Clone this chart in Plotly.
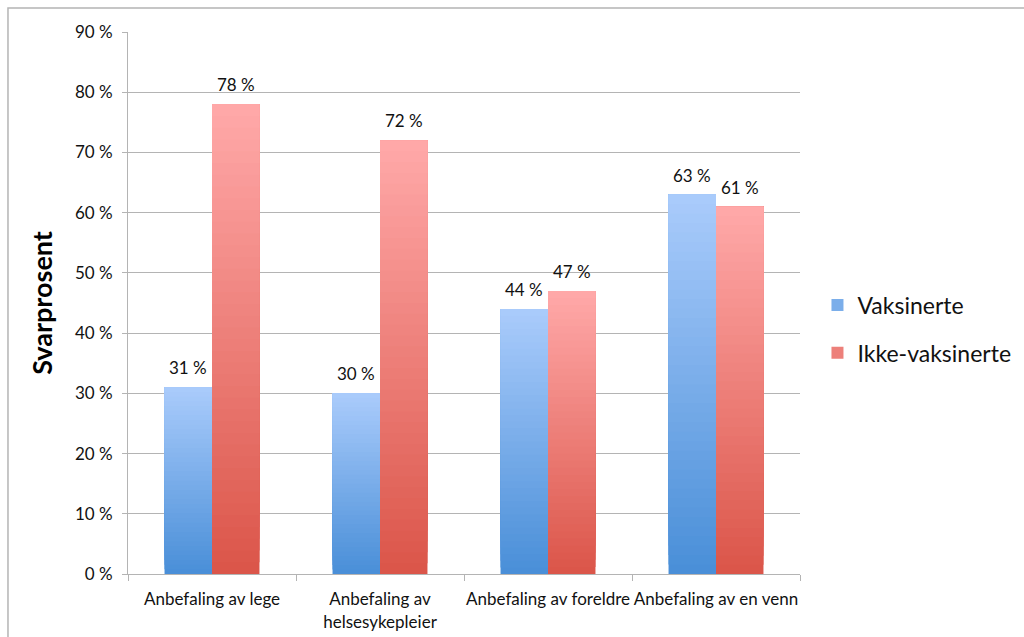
import plotly.graph_objects as go

categories = ["Anbefaling av lege", "Anbefaling av<br>helsesykepleier",
              "Anbefaling av foreldre", "Anbefaling av en venn"]
vaksinerte = [31, 30, 44, 63]
ikke_vaksinerte = [78, 72, 47, 61]
series_names = ["Vaksinerte", "Ikke-vaksinerte"]
y_ticks = [0, 10, 20, 30, 40, 50, 60, 70, 80, 90]
y_ticktext = ["%d %%" % v for v in y_ticks]

FONT = "Lato, 'Liberation Sans', Arial, sans-serif"
TXT = "#111111"
N = 40  # gradient slices per bar
BARGAP = 0.435

grad = {
    "Vaksinerte": ((74, 143, 216), (169, 203, 251)),
    "Ikke-vaksinerte": ((219, 86, 74), (255, 168, 168)),
}


def mix(c0, c1, t):
    return "rgb(%d,%d,%d)" % tuple(round(a + (b - a) * t) for a, b in zip(c0, c1))


fig = go.Figure()
annotations = []
for s, (name, vals, grp) in enumerate([("Vaksinerte", vaksinerte, "v"),
                                       ("Ikke-vaksinerte", ikke_vaksinerte, "r")]):
    c0, c1 = grad[name]
    for i in range(N):
        t = i / (N - 1)
        # each slice runs from its base up to the bar top; later slices overlay
        fig.add_trace(go.Bar(
            x=categories,
            y=[v * (N - i) / N for v in vals],
            base=[v * i / N for v in vals],
            offsetgroup=grp,
            marker=dict(color=mix(c0, c1, t), line=dict(width=0)),
            name=name,
            legendgroup=grp,
            showlegend=(i == N // 2),
            hoverinfo="skip",
        ))
    sign = -1 if s == 0 else 1
    for k, v in enumerate(vals):
        annotations.append(dict(
            x=k + sign * (1 - BARGAP) / 4, y=v, xref="x", yref="y",
            text="%d %%" % v, showarrow=False, yanchor="bottom", yshift=7,
            font=dict(family=FONT, size=17, color=TXT),
        ))

fig.update_layout(
    width=1024, height=637,
    margin=dict(l=128, r=224, t=32, b=63, autoexpand=False),
    paper_bgcolor="white", plot_bgcolor="white",
    barmode="group", bargap=BARGAP, bargroupgap=0,
    font=dict(family=FONT, size=17, color=TXT),
    legend=dict(x=1.026, y=0.452, xanchor="left", yanchor="middle",
                font=dict(family=FONT, size=23, color=TXT),
                tracegroupgap=15, bgcolor="rgba(0,0,0,0)"),
    annotations=annotations,
    shapes=[dict(type="rect", xref="paper", yref="paper",
                 x0=-0.1786, x1=1.35, y0=-0.14, y1=1.0443,
                 line=dict(color="#b4b4b4", width=1.5), layer="below")],
)
fig.update_yaxes(
    range=[0, 90], tickmode="array", tickvals=y_ticks, ticktext=y_ticktext,
    showgrid=True, gridcolor="#b4b4b4", gridwidth=1,
    showline=True, linecolor="#b4b4b4", linewidth=1,
    ticks="outside", ticklen=5, tickcolor="#b4b4b4",
    tickfont=dict(family=FONT, size=17, color=TXT),
    ticklabelstandoff=6,
    zeroline=False, automargin=False,
    title=dict(text="<b>Svarprosent</b>", standoff=14,
               font=dict(family=FONT, size=27, color="#000")),
)
fig.update_xaxes(
    showline=True, linecolor="#b4b4b4", linewidth=1,
    ticks="outside", ticklen=6, tickcolor="#b4b4b4", tickson="boundaries",
    tickfont=dict(family=FONT, size=17, color=TXT), tickangle=0,
    ticklabelstandoff=10, automargin=False,
)

fig.write_html("out.html")
